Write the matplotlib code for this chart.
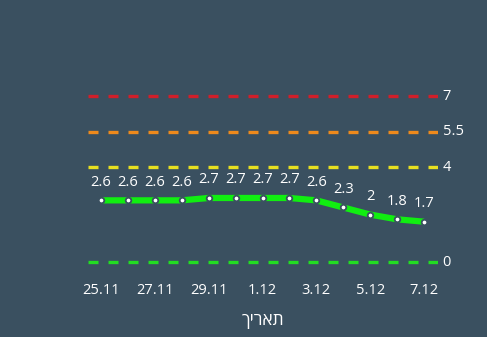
import matplotlib
matplotlib.use("Agg")
import matplotlib.pyplot as plt

dates = ["25.11", "26.11", "27.11", "28.11", "29.11", "30.11", "1.12",
         "2.12", "3.12", "4.12", "5.12", "6.12", "7.12"]
values = [2.6, 2.6, 2.6, 2.6, 2.7, 2.7, 2.7, 2.7, 2.6, 2.3, 2, 1.8, 1.7]
ref_levels = [0, 4, 5.5, 7]
ref_labels = ["0", "4", "5.5", "7"]
ref_colors = ["#22dd22", "#e8e020", "#ee8a1c", "#d01f2a"]
xlabel = "תאריך"

bg = "#3a5060"
fam = ["Open Sans", "DejaVu Sans"]

fig = plt.figure(figsize=(4.87, 3.37), dpi=100, facecolor=bg)
ax = fig.add_axes([87.5 / 487, 67 / 337, 350 / 487, 190 / 337])
ax.set_facecolor(bg)
x = list(range(len(dates)))
ax.set_xlim(-0.5, len(dates) - 0.5)
ax.set_ylim(-0.337, 7.675)

for lvl, lab, col in zip(ref_levels, ref_labels, ref_colors):
    ax.axhline(lvl, color=col, lw=2.4, linestyle=(0, (3.0, 3.0)))
    ax.text(1.015, lvl, lab, transform=ax.get_yaxis_transform(),
            color="white", fontsize=10.5, va="center", ha="left", family=fam)

ax.plot(x, values, color="#11ee11", lw=4.5, solid_capstyle="butt", zorder=3)
ax.plot(x, values, linestyle="none", marker="o", markersize=4,
        markerfacecolor="white", markeredgecolor=bg, markeredgewidth=1.3, zorder=4)

for xi, v in zip(x, values):
    ax.annotate(f"{v:g}", (xi, v), xytext=(0, 13), textcoords="offset points",
                ha="center", va="center", color="white", fontsize=10.5, family=fam)

ax.set_xticks(x[::2])
ax.set_xticklabels(dates[::2], color="white", fontsize=10.5, family=fam)
ax.tick_params(axis="x", length=0, pad=9)
ax.set_yticks([])
for s in ax.spines.values():
    s.set_visible(False)

fig.text(262.5 / 487, 1 - 321 / 337, xlabel[::-1], color="white", fontsize=12.5,
         ha="center", va="center", family=fam)

fig.savefig("out.png", dpi=100, facecolor=bg)
